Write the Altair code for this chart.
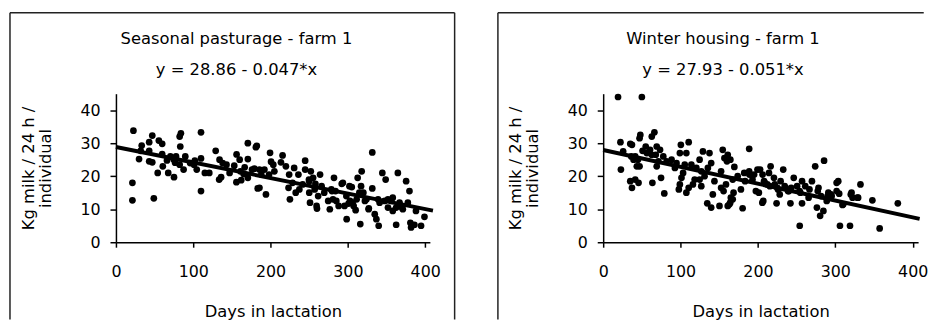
import altair as alt
import pandas as pd

FONT = "DejaVu Sans"

# ---- Seasonal pasturage - farm 1 ----
left_days = [22.6, 33.3, 32, 29.9, 43, 47, 43, 55.5, 59.8, 43, 47, 59.8, 60.6, 54, 70.4, 74.7, 77.7, 83.2, 82.4, 84,
             76.5, 67.6, 75.1, 82.4, 89.7, 87.5, 96, 101, 104.5, 110, 110, 110, 115, 120.7, 129, 134, 138, 133.5, 136, 143,
             147, 153, 156, 160, 155.8, 162, 166.5, 170.6, 170.6, 165.2, 176, 181, 179, 183.3, 21.3, 21.3, 49, 66, 102, 170.6,
             161, 182.2, 185.6, 192, 185.6, 194, 199.3, 200.6, 204.9, 213.4, 215.5, 219.8, 224, 223.2, 225, 230.5, 228.4, 236, 244.7, 244.7,
             252, 250, 250, 251, 255, 259.5, 264, 266, 269.4, 274.5, 276.6, 282, 283.9, 285, 288, 293.5, 298, 295.6, 298.4, 302,
             306, 307.4, 312.6, 317.8, 317, 314.8, 316, 324, 326.8, 331.5, 331.5, 334.7, 336.8, 339.8, 339, 344.5, 348.8, 351.8, 356, 358,
             362.4, 364.6, 375.3, 379.6, 377.5, 380.8, 381.7, 386, 388, 351.8, 362.4, 370, 366.8, 341, 347.6, 322, 311.3, 302.7, 257, 261.5,
             278.6, 280.7, 237.2, 241.5, 394.6, 399, 203.5, 198, 188, 232.5, 249.6, 258, 260, 279.4, 292, 300.8, 305, 310, 320, 327,
             358, 371]
left_milk = [33.8, 29.3, 27.7, 25.2, 27.7, 32.3, 30.3, 30.8, 29.8, 24.5, 24.2, 26.7, 23, 21, 26, 25.1, 26, 29, 32, 33,
             24.1, 21, 19.7, 23.5, 26, 22, 24, 23.5, 22, 33.3, 25.4, 15.5, 21, 21, 27.7, 25, 24, 19, 19.7, 23.5,
             21, 23.2, 26.6, 25, 18.2, 18.8, 22.7, 30, 25.2, 20.7, 22, 28.8, 22.3, 16.3, 18, 12.7, 13.3, 24.8, 24.7, 19.5,
             21.5, 29.2, 22, 22, 16.5, 14.5, 27.1, 24.4, 21.5, 24.2, 26.3, 23, 20.5, 16.5, 13, 22.5, 18, 20.5, 24.7, 22,
             21.5, 18.5, 15, 12, 19.5, 11, 20.5, 17, 15, 12.5, 10, 19.5, 15.5, 12.5, 11, 18, 14, 11, 7, 17,
             12, 11, 19.5, 21.5, 17, 15, 5.5, 13, 10, 27.2, 16.3, 8.5, 7, 5, 13, 21, 19, 13, 12.5, 9.5,
             5.3, 21, 18.5, 15.5, 12, 5.9, 4.5, 5.3, 9.5, 10.5, 10.5, 10.5, 12, 12, 12.5, 12.5, 13, 12.5, 16, 14,
             16, 13, 16, 17.5, 5, 7.7, 23.5, 20.5, 20.5, 15, 19, 17.7, 10.2, 15.5, 17.7, 11.7, 16.7, 9.7, 15, 10.3,
             13.5, 10]

# ---- Winter housing - farm 1 ----
right_days = [19.2, 50, 22.3, 22.9, 25.8, 35, 37.2, 36.3, 39.3, 43.5, 47, 44.9, 41.4, 35, 37.2, 41.4, 45.7, 47, 48, 50.9,
              55, 56.4, 60.6, 62.8, 66.2, 63.6, 62.8, 68, 69.2, 71.3, 69.2, 74.8, 73.5, 77.7, 79, 82, 88.4, 92.7, 94.8, 99.1,
              100.4, 103.3, 101.2, 97.8, 99.1, 105.4, 107.5, 110.5, 107.5, 110.5, 116, 118.2, 114, 120.4, 124.6, 128.9, 126.8, 124.6, 126.8, 131,
              135.3, 137.4, 139.6, 134.5, 139.6, 141.7, 143.8, 152.4, 154.5, 156.7, 160, 150.3, 152.4, 155.6, 158.7, 161, 165, 167.4, 167.4, 169.5,
              161, 164.4, 163.1, 188.7, 180.2, 178, 173.8, 182.3, 188.7, 195.1, 193, 199.4, 202.8, 197.3, 201.2, 205.7, 207.9, 214.3, 216.4, 212.2,
              220.7, 224.1, 225, 229.3, 232.7, 235.7, 240, 242, 246.3, 250.6, 254.8, 254, 257, 261.2, 257, 265.5, 269.8, 274, 278.3, 276.2,
              280.4, 285.5, 284.6, 288.9, 291, 295.3, 301.7, 303.8, 301.7, 306, 310.3, 319, 321, 322.3, 329.5, 332.5, 347.9, 357.3, 380.8, 253.8,
              266.6, 277.3, 281.6, 290, 294.4, 305, 309.3, 320, 328.6, 206, 209, 215.4, 221.8, 226, 234.6, 238.9, 243, 228.2, 206.9,
              189, 183.4, 168.5, 164.2]
right_milk = [44, 44, 30.3, 22, 27.5, 29.8, 29.5, 26, 25, 23, 23, 25, 26, 18.5, 16.5, 19, 18, 31.5, 32.5, 27.7,
              29, 27, 28, 32, 33.3, 18, 26.5, 26.5, 29, 24.5, 23, 19.5, 28, 26, 14.8, 24.5, 25, 22.5, 24, 27,
              29.5, 21, 19.5, 16, 17.5, 23.5, 27, 30.3, 15, 16.5, 17.5, 19, 23.5, 22.5, 25, 27.5, 21.5, 19, 17, 20,
              22.5, 27, 24, 11.8, 10.5, 14.5, 18.5, 21.5, 28, 25.5, 24.5, 11, 16.5, 15.5, 17.5, 11, 13.5, 19, 13, 22.8,
              26.5, 25, 11.5, 28.3, 10.3, 16, 20, 21, 21.5, 20.5, 19, 22, 22, 15.5, 15, 12, 18.5, 21, 23, 17.5,
              19.5, 11.8, 16.5, 18.5, 22, 16.5, 15.5, 11.8, 19.5, 17, 15, 5, 18.5, 17, 11.8, 13.5, 18.5, 23, 16.5, 10.5,
              8, 24.7, 9.5, 12.5, 15, 14, 18, 18.5, 15.5, 5, 11.5, 5, 15, 13.5, 13.5, 17.5, 12.7, 4.2, 11.8, 15.5,
              16, 15.5, 14, 14, 14.5, 14.7, 11.3, 14.5, 13.5, 20.5, 18, 17, 17.5, 16, 17, 15.5, 16.5, 14.5, 12.5,
              20.5, 18.5, 15, 12]

x_ticks = [0, 100, 200, 300, 400]
y_ticks = [0, 10, 20, 30, 40]
y_title = ["Kg milk / 24 h /", "individual"]
x_title = "Days in lactation"

one = alt.Data(values=[{"k": 1}])


def rule(x, y, x2=None, y2=None):
    enc = {"x": alt.value(x), "y": alt.value(y)}
    if x2 is not None:
        enc["x2"] = alt.value(x2)
    if y2 is not None:
        enc["y2"] = alt.value(y2)
    return alt.Chart(one).mark_rule(color="#222222", strokeWidth=1.5).encode(**enc)


def label(txt, x, y):
    return alt.Chart(one).mark_text(font=FONT, fontSize=16.5, align="center", baseline="alphabetic",
                                    color="black").encode(x=alt.value(x), y=alt.value(y), text=alt.value(txt))


def panel(days, milk, head, eq, b0, b1, w, xmax, xend, tx, frame):
    pts = pd.DataFrame({"day": days, "milk": milk})
    ln = pd.DataFrame({"day": [0, xend], "milk": [b0, b0 + b1 * xend]})
    xaxis = alt.Axis(values=x_ticks, title=x_title, tickSize=5, labelPadding=17, titlePadding=24,
                     labelFlush=False, labelOverlap=False, grid=False)
    yaxis = alt.Axis(values=y_ticks, title=y_title, tickSize=6, labelPadding=10, titlePadding=27,
                     labelFlush=False, labelOverlap=False, grid=False)
    X = alt.X("day:Q", scale=alt.Scale(domain=[0, xmax], nice=False, zero=False), axis=xaxis)
    Y = alt.Y("milk:Q", scale=alt.Scale(domain=[0, 45], nice=False), axis=yaxis)
    points = alt.Chart(pts).mark_circle(size=46, color="black", opacity=1).encode(x=X, y=Y)
    line = alt.Chart(ln).mark_line(color="black", strokeWidth=4).encode(x=X, y=Y)
    layers = [points, line, label(head, tx, -50.5), label(eq, tx, -19)] + frame
    return alt.layer(*layers).properties(width=w, height=150)


left_frame = [rule(-107, -81.7, y2=228), rule(-107, -81.7, x2=342), rule(342, -81.7, y2=228)]
right_frame = [rule(-106.3, -81.7, y2=228), rule(-106.3, -81.7, x2=323.7)]

left = panel(left_days, left_milk, "Seasonal pasturage - farm 1", "y = 28.86 - 0.047*x",
             28.86, -0.047, 317, 406, 410, 121.7, left_frame)
right = panel(right_days, right_milk, "Winter housing - farm 1", "y = 27.93 - 0.051*x",
              27.93, -0.051, 318, 407, 409, 121, right_frame)

chart = alt.hconcat(left, right, spacing=41).configure_axis(
    labelFont=FONT, titleFont=FONT, labelFontSize=16, titleFontSize=16.5, titleFontWeight="normal",
    labelColor="black", titleColor="black", domainColor="black", tickColor="black",
    domainWidth=1.5, tickWidth=1.5, titleLineHeight=17
).configure_view(strokeWidth=0).properties(
    padding={"left": 1, "top": 2, "right": 0, "bottom": 0}
)

chart.save("out.html", embed_options={"renderer": "svg", "actions": False})
